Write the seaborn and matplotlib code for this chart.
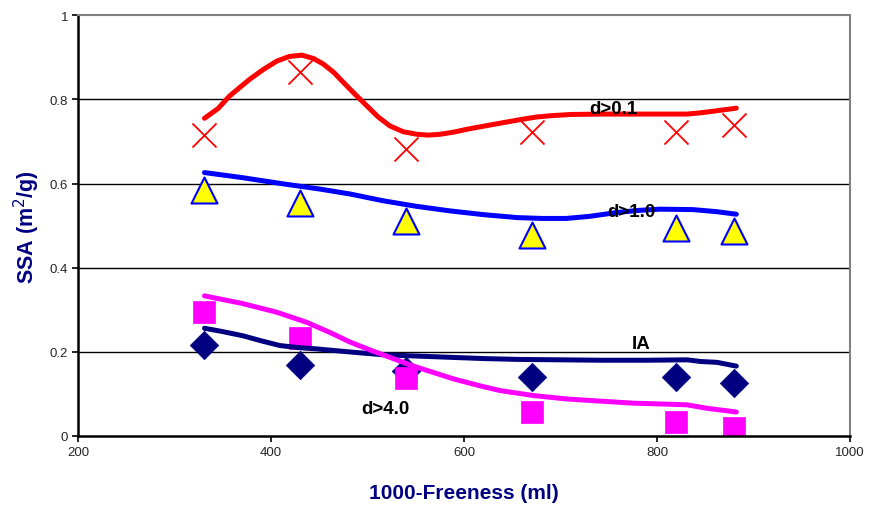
import matplotlib
matplotlib.use("Agg")
import matplotlib.pyplot as plt
import seaborn as sns
import pandas as pd

# measured points
x_pts = [330, 430, 540, 670, 820, 880]
d01_pts = [0.715, 0.865, 0.682, 0.722, 0.722, 0.738]
d10_pts = [0.585, 0.553, 0.511, 0.477, 0.495, 0.487]
ia_pts = [0.216, 0.169, 0.154, 0.140, 0.140, 0.126]
d40_pts = [0.295, 0.233, 0.138, 0.057, 0.033, 0.019]

# smoothed curves
d01_x = [331, 345, 357, 368, 378, 392, 406, 419, 432, 444, 454, 465, 475, 487, 499, 511, 523, 537, 551, 563, 575, 589, 603, 634, 661, 675, 689, 710, 741, 831, 845, 862, 882]
d01_y = [0.755, 0.778, 0.808, 0.829, 0.848, 0.871, 0.891, 0.902, 0.905, 0.897, 0.884, 0.864, 0.840, 0.812, 0.785, 0.758, 0.737, 0.723, 0.717, 0.715, 0.717, 0.722, 0.729, 0.742, 0.753, 0.758, 0.761, 0.764, 0.765, 0.765, 0.768, 0.773, 0.779]
d10_x = [331, 370, 413, 450, 482, 516, 550, 585, 620, 655, 680, 706, 730, 758, 780, 803, 837, 862, 882]
d10_y = [0.626, 0.614, 0.599, 0.587, 0.575, 0.559, 0.546, 0.535, 0.526, 0.519, 0.517, 0.517, 0.522, 0.531, 0.536, 0.539, 0.538, 0.533, 0.527]
ia_x = [331, 350, 371, 390, 409, 428, 447, 480, 516, 550, 585, 620, 655, 700, 741, 790, 831, 845, 862, 882]
ia_y = [0.256, 0.248, 0.238, 0.226, 0.215, 0.210, 0.207, 0.200, 0.193, 0.190, 0.187, 0.184, 0.182, 0.181, 0.180, 0.180, 0.181, 0.177, 0.175, 0.166]
d40_x = [331, 370, 406, 437, 460, 482, 503, 523, 545, 568, 590, 615, 637, 672, 706, 740, 775, 805, 831, 851, 882]
d40_y = [0.333, 0.315, 0.294, 0.270, 0.247, 0.223, 0.204, 0.187, 0.168, 0.151, 0.135, 0.120, 0.108, 0.096, 0.088, 0.083, 0.078, 0.076, 0.074, 0.066, 0.057]

labels = ["d>0.1", "d>1.0", "IA", "d>4.0"]
label_x = [755, 773, 783, 518]
label_y = [0.778, 0.534, 0.219, 0.066]

x_ticks = [200, 400, 600, 800, 1000]
y_ticks = [0, 0.2, 0.4, 0.6, 0.8, 1]

sns.set_style("white")
plt.rcParams['font.family'] = ['Liberation Sans', 'DejaVu Sans']

fig = plt.figure(figsize=(8.69, 5.06), dpi=100)
ax = fig.add_axes([0.0898, 0.1364, 0.8886, 0.8316])

navy = "#000080"

for y in [0.2, 0.4, 0.6, 0.8]:
    ax.axhline(y, color="black", lw=1.0, zorder=0)

# markers
sns.scatterplot(x=x_pts, y=d01_pts, ax=ax, marker="x", s=300, color="red", linewidth=1.3, zorder=2)
sns.scatterplot(x=x_pts, y=d10_pts, ax=ax, marker="^", s=350, color="yellow", edgecolor="blue", linewidth=1.5, zorder=2)
sns.scatterplot(x=x_pts, y=ia_pts, ax=ax, marker="D", s=210, color=navy, edgecolor=navy, linewidth=0.5, zorder=2)
sns.scatterplot(x=x_pts, y=d40_pts, ax=ax, marker="s", s=270, color="#ff00ff", edgecolor="#ff00ff", linewidth=0.5, zorder=2)

# smooth lines
for lx, ly, c in [(d01_x, d01_y, "red"), (d10_x, d10_y, "blue"), (ia_x, ia_y, navy), (d40_x, d40_y, "#ff00ff")]:
    sns.lineplot(x=lx, y=ly, ax=ax, color=c, lw=3.6, sort=False, estimator=None, zorder=3,
                 solid_joinstyle="round", solid_capstyle="round")

for t, lx, ly in zip(labels, label_x, label_y):
    ax.text(lx, ly, t, fontsize=13.5, fontweight="bold", ha="center", va="center", color="black", zorder=4)

ax.set_xlim(200, 1000)
ax.set_ylim(0, 1)
ax.set_xticks(x_ticks)
ax.set_xticklabels([str(v) for v in x_ticks])
ax.set_yticks(y_ticks)
ax.set_yticklabels(["0", "0.2", "0.4", "0.6", "0.8", "1"])
ax.tick_params(axis="both", labelsize=9.5, direction="out", length=4, width=1.2, color="black",
               bottom=True, left=True, pad=3)

for s in ["left", "bottom"]:
    ax.spines[s].set_color("black")
    ax.spines[s].set_linewidth(1.8)
for s in ["top", "right"]:
    ax.spines[s].set_color("#808080")
    ax.spines[s].set_linewidth(1.5)

ax.set_xlabel("1000-Freeness (ml)", fontsize=15, fontweight="bold", color=navy, labelpad=18)
ax.set_ylabel("SSA (m$^2$/g)", fontsize=15.5, fontweight="bold", color=navy, labelpad=6)

fig.savefig("out.png", dpi=100)
